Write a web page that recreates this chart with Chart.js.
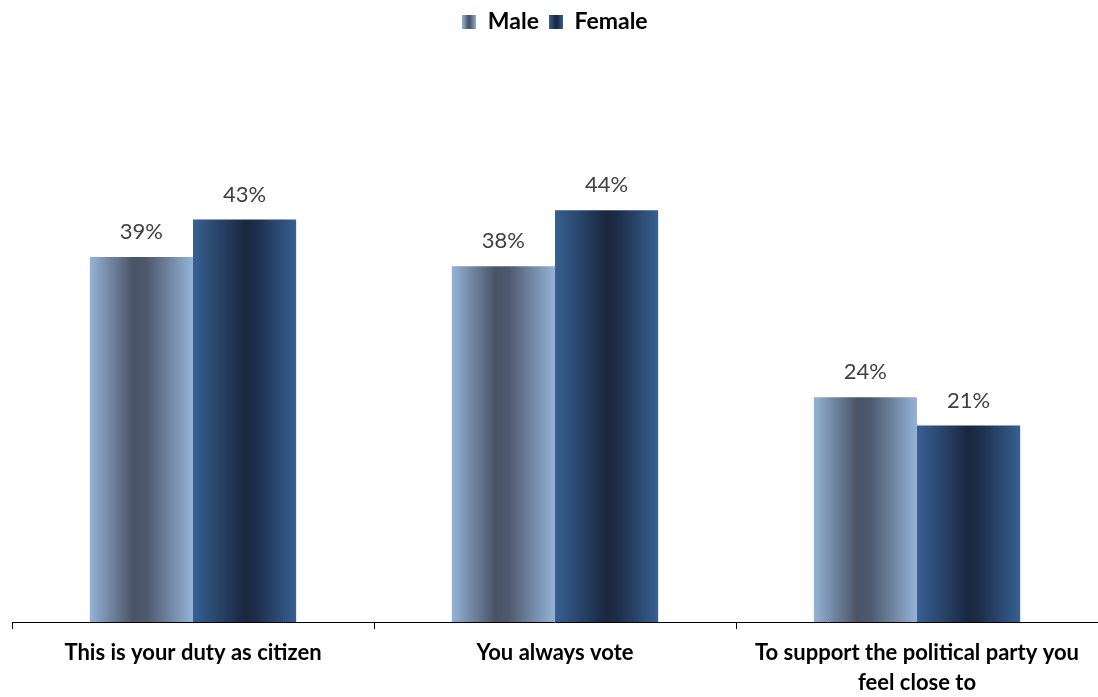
<!DOCTYPE html>
<html>
<head>
<meta charset="utf-8">
<script src="https://cdn.jsdelivr.net/npm/chart.js@4"></script>
<style>
  body { margin: 0; background: #fff; }
</style>
</head>
<body>
<canvas id="chart" width="1098" height="697"></canvas>
<script>
// Chart data
const categories = [
    'This is your duty as citizen',
    'You always vote',
    ['To support the political party you', 'feel close to']
];
const maleValues = [39, 38, 24];
const femaleValues = [43, 44, 21];
const seriesNames = ['Male', 'Female'];

// Gradient stops per series (light edges, dark middle)
const maleStops = [[0, '#95b3d7'], [0.42, '#4a5366'], [0.55, '#4e596e'], [1, '#95b3d7']];
const femaleStops = [[0, '#376092'], [0.5, '#1a2740'], [0.6, '#1d2c48'], [1, '#376092']];

const catPct = 0.57;

function barGradient(c, stops, side) {
    const chart = c.chart;
    const xs = chart.scales.x;
    if (!xs || c.dataIndex === undefined) return stops[0][1];
    const center = xs.getPixelForValue(c.dataIndex);
    const barW = (xs.width / categories.length) * catPct / 2;
    const left = side === 0 ? center - barW : center;
    const g = chart.ctx.createLinearGradient(left, 0, left + barW, 0);
    stops.forEach(s => g.addColorStop(s[0], s[1]));
    return g;
}

function legendSwatch(stops) {
    const cv = document.createElement('canvas');
    cv.width = 14;
    cv.height = 14;
    const cx = cv.getContext('2d');
    const g = cx.createLinearGradient(0, 0, 14, 0);
    stops.forEach(s => g.addColorStop(s[0], s[1]));
    cx.fillStyle = g;
    cx.fillRect(0, 0, 14, 14);
    return cv;
}
const swatches = [legendSwatch(maleStops), legendSwatch(femaleStops)];

// Value labels above bars
const valueLabels = {
    id: 'valueLabels',
    afterDatasetsDraw(chart) {
        const ctx = chart.ctx;
        ctx.save();
        ctx.font = '22px Lato';
        ctx.fillStyle = '#404040';
        ctx.textAlign = 'center';
        ctx.textBaseline = 'middle';
        chart.data.datasets.forEach((ds, i) => {
            chart.getDatasetMeta(i).data.forEach((el, j) => {
                ctx.fillText(ds.data[j] + '%', el.x, el.y - 25);
            });
        });
        ctx.restore();
    }
};

// Push the plot area down below the legend
const legendSpace = {
    id: 'legendSpace',
    beforeInit(chart) {
        const origFit = chart.legend.fit;
        chart.legend.fit = function () {
            origFit.bind(chart.legend)();
            this.height = 154;
        };
    }
};

const ctx = document.getElementById('chart').getContext('2d');
new Chart(ctx, {
    type: 'bar',
    data: {
        labels: categories,
        datasets: [{
            label: seriesNames[0],
            data: maleValues,
            backgroundColor: c => barGradient(c, maleStops, 0),
            categoryPercentage: catPct,
            barPercentage: 1
        }, {
            label: seriesNames[1],
            data: femaleValues,
            backgroundColor: c => barGradient(c, femaleStops, 1),
            categoryPercentage: catPct,
            barPercentage: 1
        }]
    },
    options: {
        responsive: false,
        animation: false,
        layout: { padding: { left: 12, right: 0, top: 0, bottom: 0 } },
        plugins: {
            tooltip: { enabled: false },
            legend: {
                position: 'top',
                labels: {
                    usePointStyle: true,
                    boxWidth: 14,
                    boxHeight: 14,
                    padding: 10,
                    color: '#000',
                    font: { family: 'Lato', size: 23, weight: 'bold' },
                    generateLabels: chart => chart.data.datasets.map((ds, i) => ({
                        text: ds.label,
                        pointStyle: swatches[i],
                        datasetIndex: i,
                        hidden: false,
                        lineWidth: 0
                    }))
                }
            }
        },
        scales: {
            x: {
                offset: true,
                afterFit: scale => { scale.height = 75; },
                grid: {
                    display: true,
                    offset: true,
                    drawOnChartArea: false,
                    tickLength: 7,
                    color: '#000'
                },
                border: { color: '#000', width: 1 },
                ticks: {
                    color: '#000',
                    padding: 9,
                    maxRotation: 0,
                    autoSkip: false,
                    font: { family: 'Lato', size: 22, weight: 'bold', lineHeight: 1.36 }
                }
            },
            y: {
                display: false,
                min: 0,
                max: 50
            }
        }
    },
    plugins: [valueLabels, legendSpace]
});
</script>
</body>
</html>
